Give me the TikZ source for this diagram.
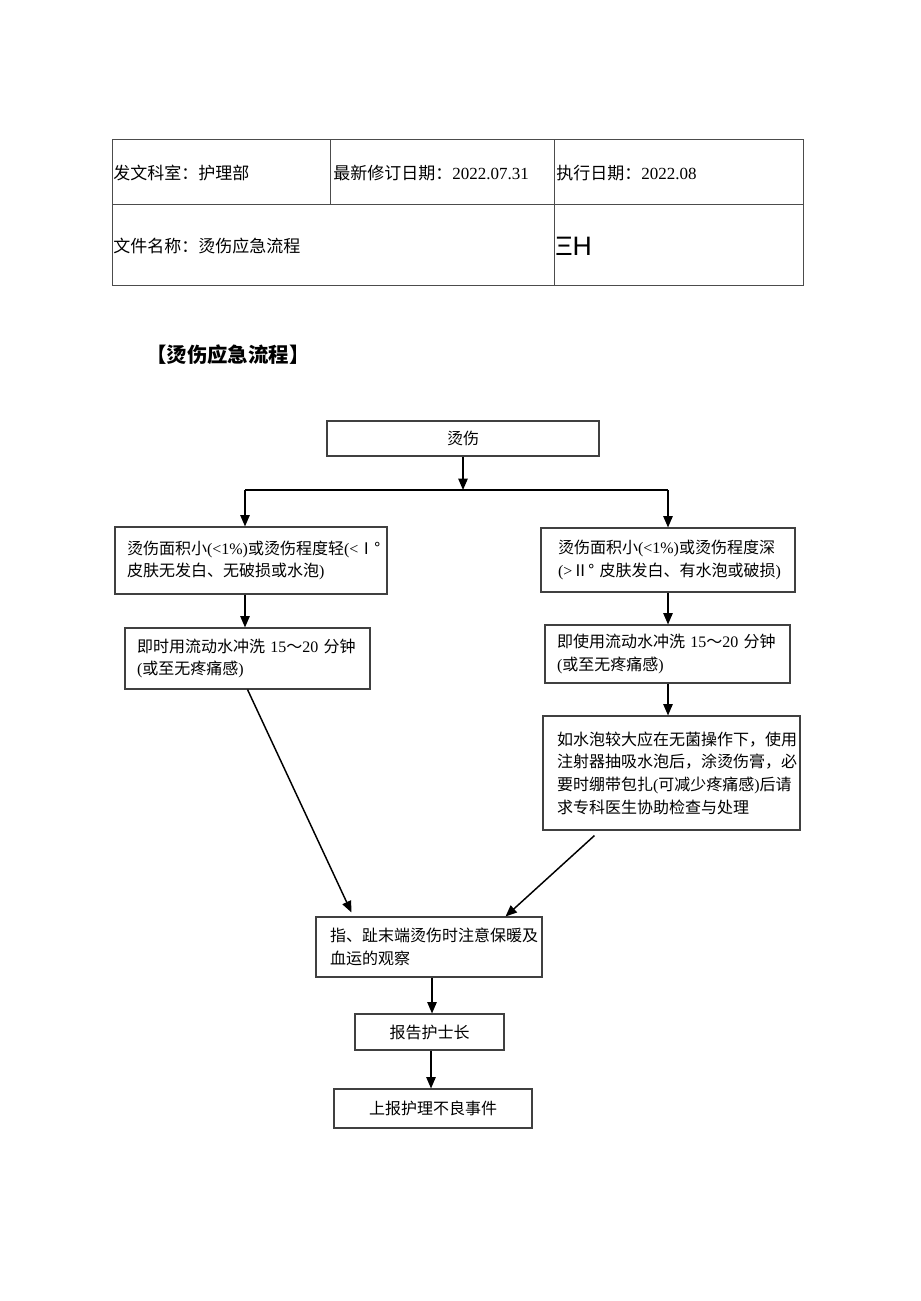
\documentclass[tikz,border=0pt]{standalone}
\usepackage{fontspec}
\setmainfont{Liberation Serif}
\newfontfamily\cjk{Noto Sans CJK SC}
\newfontfamily\hfont{Liberation Sans}
\usetikzlibrary{arrows.meta,calc}
\newcommand\C[1]{{\cjk #1}}
\begin{document}
\begin{tikzpicture}[x=0.75pt,y=-0.75pt,
  tbl/.style={draw=black!70,line width=0.75pt},
  tt/.style={anchor=west,inner sep=0pt,font=\fontsize{12.75}{15}\selectfont},
  box/.style={draw=black!75,line width=0.8pt,inner sep=0pt,font=\fontsize{12}{17}\selectfont},
  arr/.style={-{Triangle[length=8.5pt,width=7pt]},line width=1.1pt,black},
  ln/.style={line width=1.1pt,black}]
\fill[white] (0,0) rectangle (920,1301);
\useasboundingbox (0,0) rectangle (920,1301);
% header table
\draw[tbl] (112,140) rectangle (803,286);
\draw[tbl] (112,205) -- (803,205);
\draw[tbl] (330,140) -- (330,205);
\draw[tbl] (554,140) -- (554,286);
\node[tt] (t1) at (113,173) {\C{发文科室：护理部}};
\node[tt] (t2) at (333,173) {\C{最新修订日期：}2022.07.31};
\node[tt] (t3) at (556,173) {\C{执行日期：}2022.08};
\node[tt] (t4) at (113,246) {\C{文件名称：烫伤应急流程}};
\node[anchor=west,inner sep=0pt,font=\fontsize{20}{22}\selectfont\hfont] (t5) at (555,246) {ΞH};
% title
\node[anchor=west,inner sep=0pt,font=\fontsize{15.3}{18}\selectfont\cjk\bfseries] (title) at (146,355) {【烫伤应急流程】};
% flow boxes
\node[box,minimum width=204pt,minimum height=26.25pt] (top) at (463,438.5) {\C{烫伤}};
\node[box,minimum width=204pt,minimum height=50.25pt,text width=186pt,align=left] (L1) at (251,560.5)
  {\C{烫伤面积小}(<1\%)\C{或烫伤程度轻}(<\C{Ⅰ°}\\\C{皮肤无发白、无破损或水泡})};
\node[box,minimum width=183.75pt,minimum height=45.75pt,text width=165.75pt,align=left] (L2) at (247.5,658.5)
  {\C{即时用流动水冲洗}~15\C{～}20~\C{分钟}\\(\C{或至无疼痛感})};
\node[box,minimum width=190.5pt,minimum height=48pt,text width=165pt,align=left] (R1) at (668,560)
  {\C{烫伤面积小}(<1\%)\C{或烫伤程度深}\\(>\C{Ⅱ°}~\C{皮肤发白、有水泡或破损})};
\node[box,minimum width=183.75pt,minimum height=43.5pt,text width=165.75pt,align=left] (R2) at (667.5,654)
  {\C{即使用流动水冲洗}~15\C{～}20~\C{分钟}\\(\C{或至无疼痛感})};
\node[box,minimum width=192.75pt,minimum height=85.5pt,text width=171.75pt,align=left] (R3) at (671.5,773)
  {\C{如水泡较大应在无菌操作下，使用}\\\C{注射器抽吸水泡后，涂烫伤膏，必}\\\C{要时绷带包扎}(\C{可减少疼痛感})\C{后请}\\\C{求专科医生协助检查与处理}};
\node[box,minimum width=169.5pt,minimum height=45pt,text width=148.5pt,align=left] (B1) at (429,947)
  {\C{指、趾末端烫伤时注意保暖及}\\\C{血运的观察}};
\node[box,minimum width=111.75pt,minimum height=27pt] (B2) at (429.5,1032) {\C{报告护士长}};
\node[box,minimum width=148.5pt,minimum height=29.25pt] (B3) at (433,1108.5) {\C{上报护理不良事件}};
% connectors
\coordinate (j) at (463,490);
\coordinate (jl) at (245,490);
\coordinate (jr) at (668,490);
\draw[arr] (top.south) -- (j);
\draw[ln] (jl) -- (jr);
\draw[arr] (jl) -- (jl |- L1.north);
\draw[arr] (jr) -- (jr |- R1.north);
\draw[arr] (jl |- L1.south) -- (jl |- L2.north);
\draw[arr] (jr |- R1.south) -- (jr |- R2.north);
\draw[arr] (jr |- R2.south) -- (jr |- R3.north);
\draw[arr] (L2.south) -- ($(B1.north west)+(36,-4)$);
\draw[arr] ($(R3.south west)+(52,5)$) -- ($(B1.north east)+(-37,0)$);
\draw[arr] ($(B1.south)+(3,0)$) -- ($(B1.south |- B2.north)+(3,0)$);
\draw[arr] ($(B2.south)+(1.5,0)$) -- ($(B2.south |- B3.north)+(1.5,0)$);
\end{tikzpicture}
\end{document}
